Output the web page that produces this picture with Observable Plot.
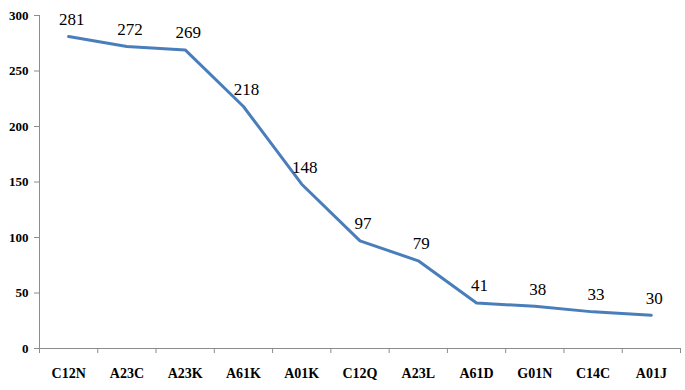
<!DOCTYPE html>
<html>
<head>
<meta charset="utf-8">
<script src="https://cdn.jsdelivr.net/npm/d3@7"></script>
<script src="https://cdn.jsdelivr.net/npm/@observablehq/plot@0.6"></script>
<style>
  html, body { margin: 0; padding: 0; background: #fff; font-family: "Liberation Serif", serif; }
</style>
</head>
<body>
<div id="chart"></div>
<script>
const categories = ["C12N", "A23C", "A23K", "A61K", "A01K", "C12Q", "A23L", "A61D", "G01N", "C14C", "A01J"];
const values = [281, 272, 269, 218, 148, 97, 79, 41, 38, 33, 30];
const yTicks = [0, 50, 100, 150, 200, 250, 300];

const data = categories.map((c, i) => ({i, c, v: values[i]}));
const boundaries = d3.range(categories.length + 1).map(k => k - 0.5);

const axisGray = "#8c8c8c";

const chart = Plot.plot({
  width: 685,
  height: 390,
  marginLeft: 39,
  marginRight: 5,
  marginTop: 15,
  marginBottom: 42,
  style: "background: #fff; overflow: visible; font-family: 'Liberation Serif', serif;",
  x: {type: "linear", domain: [-0.5, categories.length - 0.5], axis: null},
  y: {domain: [0, 300], axis: null},
  marks: [
    Plot.ruleY([0], {stroke: axisGray, strokeWidth: 1}),
    Plot.ruleX([-0.5], {stroke: axisGray, strokeWidth: 1}),
    Plot.axisY({ticks: yTicks, label: null, tickSize: 5, tickPadding: 6, stroke: axisGray, tickFormat: d => d, fontSize: 13, fontWeight: "bold", fill: "#000"}),
    Plot.axisX({ticks: boundaries, label: null, tickSize: 5, tickFormat: () => "", stroke: axisGray}),
    Plot.axisX({ticks: d3.range(categories.length), label: null, tickSize: 0, tickPadding: 20, tickFormat: i => categories[i], fontSize: 14, fontWeight: "bold", fill: "#000"}),
    Plot.line(data, {x: "i", y: "v", stroke: "#4a7ebb", strokeWidth: 3, strokeLinejoin: "round"}),
    Plot.text(data, {x: "i", y: "v", text: d => String(d.v), dy: -17, dx: 3, fontSize: 17, fill: "#000"})
  ]
});
chart.querySelectorAll("text, g").forEach(t => {
  t.removeAttribute("font-family");
  t.style.fontFamily = "'Liberation Serif', serif";
});
document.getElementById("chart").appendChild(chart);
</script>
</body>
</html>
